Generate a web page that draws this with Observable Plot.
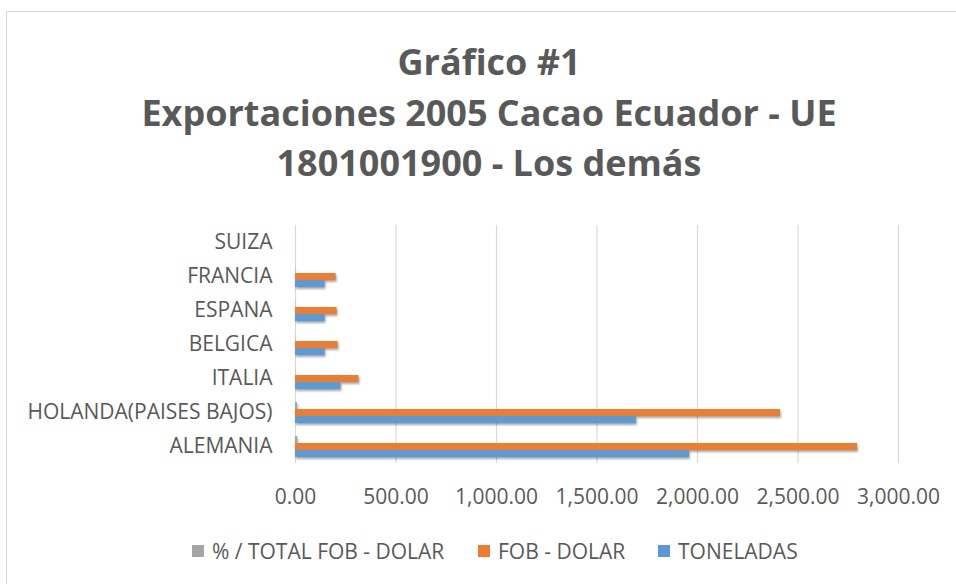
<!DOCTYPE html>
<html><head><meta charset="utf-8">
<script src="https://cdn.jsdelivr.net/npm/d3@7"></script>
<script src="https://cdn.jsdelivr.net/npm/@observablehq/plot@0.6"></script>
<style>
body{margin:0;background:#fff;}
#wrap{position:relative;width:956px;height:584px;overflow:hidden;font-family:"Open Sans",sans-serif;color:#595959;background:#fff;}
#frame{position:absolute;left:6px;top:11px;width:990px;height:620px;border:1px solid #d9d9d9;box-sizing:border-box;}
#title{position:absolute;left:0;width:978px;top:37px;text-align:center;font-weight:bold;font-size:36px;line-height:50.5px;}
#chart{position:absolute;left:0;top:200px;}
.lg{position:absolute;top:537px;font-size:21px;line-height:28px;white-space:nowrap;}
.sq{display:inline-block;width:12px;height:12px;margin-right:8px;vertical-align:2px;}
</style>
</head><body>
<div id="wrap">
  <div id="frame"></div>
  <div id="title">Gráfico #1<br>Exportaciones 2005 Cacao Ecuador - UE<br>1801001900 - Los demás</div>
  <div id="chart"></div>
</div>
<script>
const countries = ["SUIZA","FRANCIA","ESPANA","BELGICA","ITALIA","HOLANDA(PAISES BAJOS)","ALEMANIA"];
const pctTotalFob = [0, 1, 1, 1, 1, 10, 11];
const fobDolar    = [0, 202, 207, 212, 316, 2413, 2796];
const toneladas   = [0, 147, 147, 147, 226, 1696, 1960];
const seriesNames = ["% / TOTAL FOB - DOLAR", "FOB - DOLAR", "TONELADAS"];
const seriesColors = ["#a5a5a5", "#ed7d31", "#5b9bd5"];
const xTicks = [0, 500, 1000, 1500, 2000, 2500, 3000];

const seriesValues = [pctTotalFob, fobDolar, toneladas];
const data = [];
countries.forEach((c, i) => {
  seriesNames.forEach((s, j) => data.push({country: c, series: s, value: seriesValues[j][i]}));
});

const chart = Plot.plot({
  width: 956,
  height: 311,
  marginTop: 22,
  marginBottom: 45,
  marginLeft: 295,
  marginRight: 58,
  style: {fontSize: "21px", fontFamily: "'Open Sans', sans-serif", color: "#595959", background: "transparent", overflow: "visible"},
  x: {domain: [0, 3000], ticks: xTicks, tickFormat: d3.format(",.2f"), tickSize: 0, tickPadding: 26, label: null},
  fy: {domain: countries, padding: 0, tickSize: 0, tickPadding: 23, label: null},
  y: {domain: seriesNames, paddingInner: 0, paddingOuter: 0.69, axis: null},
  color: {domain: seriesNames, range: seriesColors},
  marks: [
    Plot.ruleX(xTicks, {stroke: "#d9d9d9", strokeWidth: 1.2}),
    Plot.barX(data, {x: "value", y: "series", fy: "country", fill: "series"})
  ]
});
document.getElementById("chart").appendChild(chart);
chart.querySelectorAll('g[aria-label="bar"]').forEach(g => {
  g.style.filter = "drop-shadow(1px 2px 1.2px rgba(0,0,0,0.35))";
});

const legendX = [192, 478, 658];
const wrap = document.getElementById("wrap");
seriesNames.forEach((s, j) => {
  const d = document.createElement("div");
  d.className = "lg";
  d.style.left = legendX[j] + "px";
  const sq = document.createElement("span");
  sq.className = "sq";
  sq.style.background = seriesColors[j];
  d.appendChild(sq);
  d.appendChild(document.createTextNode(s));
  wrap.appendChild(d);
});
</script>
</body></html>
